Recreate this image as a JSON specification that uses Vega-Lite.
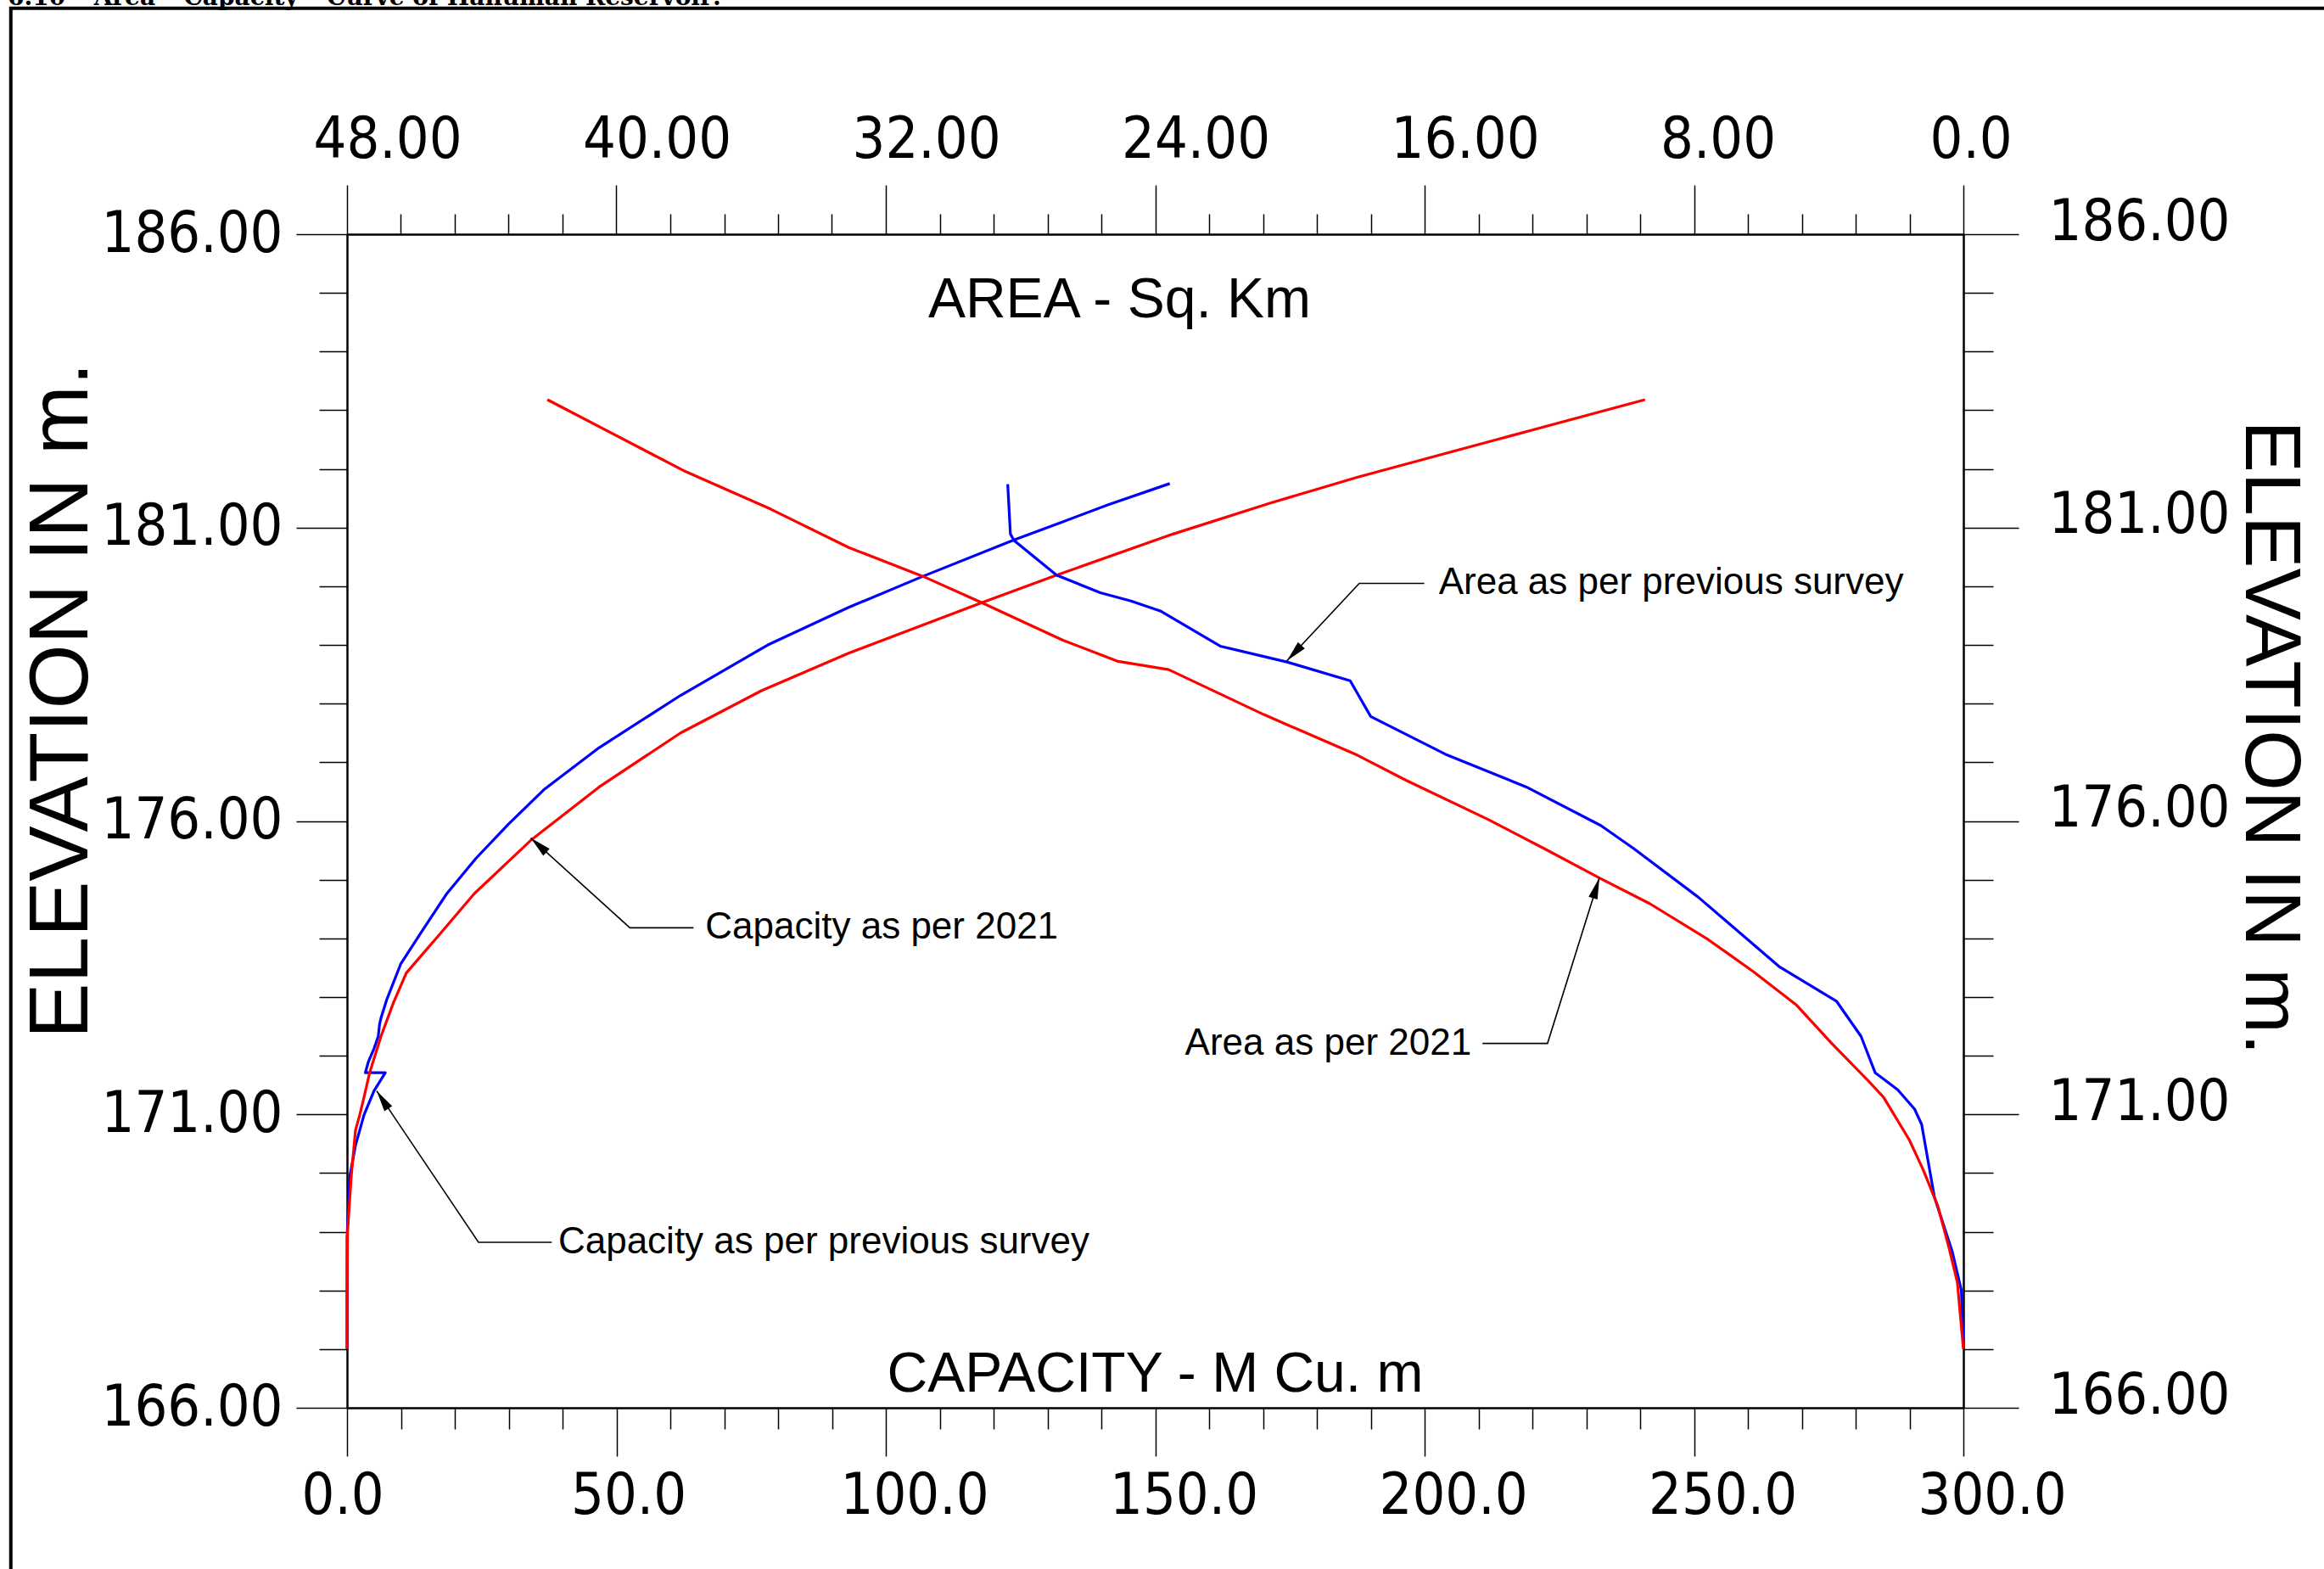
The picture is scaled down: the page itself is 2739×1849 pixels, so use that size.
{
  "$schema": "https://vega.github.io/schema/vega-lite/v6.json",
  "width": 1905,
  "height": 1383,
  "autosize": "none",
  "padding": {"left": 409, "top": 276, "right": 425, "bottom": 190},
  "background": "white",
  "config": {
    "view": {"stroke": null},
    "axis": {"grid": false, "domainColor": "black", "tickColor": "black", "labelColor": "black", "titleColor": "black", "domainWidth": 2.5, "tickWidth": 1.5, "labelOverlap": false, "labelFlush": false, "labelBound": false, "labelLimit": 0, "titleLimit": 0}
  },
  "datasets": {
    "frame": [{"cap": -62.4, "cap2": 370, "elev": 189.85, "elev2": 162.9}],
    "pageTitle": [{"text": "6.10 – Area – Capacity – Curve of Hanuman Reservoir:", "cap": -63.0, "elev": 189.9}],
    "capacity": [
      {"s": "previous survey", "i": 0, "elev": 167.0, "cap": 0},
      {"s": "previous survey", "i": 1, "elev": 168.9, "cap": 0},
      {"s": "previous survey", "i": 2, "elev": 169.44, "cap": 0.26},
      {"s": "previous survey", "i": 3, "elev": 169.95, "cap": 0.52},
      {"s": "previous survey", "i": 4, "elev": 170.47, "cap": 1.57},
      {"s": "previous survey", "i": 5, "elev": 170.99, "cap": 3.15},
      {"s": "previous survey", "i": 6, "elev": 171.4, "cap": 5.0},
      {"s": "previous survey", "i": 7, "elev": 171.71, "cap": 7.1},
      {"s": "previous survey", "i": 8, "elev": 171.71, "cap": 3.4},
      {"s": "previous survey", "i": 9, "elev": 171.89, "cap": 3.94},
      {"s": "previous survey", "i": 10, "elev": 172.12, "cap": 5.0},
      {"s": "previous survey", "i": 11, "elev": 172.33, "cap": 5.8},
      {"s": "previous survey", "i": 12, "elev": 172.54, "cap": 6.04},
      {"s": "previous survey", "i": 13, "elev": 172.64, "cap": 6.3},
      {"s": "previous survey", "i": 14, "elev": 172.95, "cap": 7.35},
      {"s": "previous survey", "i": 15, "elev": 173.57, "cap": 10.0},
      {"s": "previous survey", "i": 16, "elev": 174.08, "cap": 13.6},
      {"s": "previous survey", "i": 17, "elev": 174.76, "cap": 18.5},
      {"s": "previous survey", "i": 18, "elev": 175.36, "cap": 23.9},
      {"s": "previous survey", "i": 19, "elev": 175.94, "cap": 29.9},
      {"s": "previous survey", "i": 20, "elev": 176.53, "cap": 36.5},
      {"s": "previous survey", "i": 21, "elev": 177.25, "cap": 46.8},
      {"s": "previous survey", "i": 22, "elev": 178.14, "cap": 61.9},
      {"s": "previous survey", "i": 23, "elev": 179.0, "cap": 78.1},
      {"s": "previous survey", "i": 24, "elev": 179.64, "cap": 93.1},
      {"s": "previous survey", "i": 25, "elev": 180.17, "cap": 106.9},
      {"s": "previous survey", "i": 26, "elev": 180.78, "cap": 123.5},
      {"s": "previous survey", "i": 27, "elev": 181.08, "cap": 132.3},
      {"s": "previous survey", "i": 28, "elev": 181.39, "cap": 141.3},
      {"s": "previous survey", "i": 29, "elev": 181.75, "cap": 152.7},
      {"s": "2021", "i": 0, "elev": 167.0, "cap": 0},
      {"s": "2021", "i": 1, "elev": 168.0, "cap": 0.02},
      {"s": "2021", "i": 2, "elev": 169.0, "cap": 0.1},
      {"s": "2021", "i": 3, "elev": 169.95, "cap": 0.79},
      {"s": "2021", "i": 4, "elev": 170.73, "cap": 1.57},
      {"s": "2021", "i": 5, "elev": 170.99, "cap": 2.36},
      {"s": "2021", "i": 6, "elev": 171.29, "cap": 3.15},
      {"s": "2021", "i": 7, "elev": 171.71, "cap": 4.2},
      {"s": "2021", "i": 8, "elev": 172.33, "cap": 6.3},
      {"s": "2021", "i": 9, "elev": 172.9, "cap": 8.6},
      {"s": "2021", "i": 10, "elev": 173.41, "cap": 11.0},
      {"s": "2021", "i": 11, "elev": 174.08, "cap": 17.3},
      {"s": "2021", "i": 12, "elev": 174.76, "cap": 23.6},
      {"s": "2021", "i": 13, "elev": 175.67, "cap": 34.1},
      {"s": "2021", "i": 14, "elev": 176.58, "cap": 46.8},
      {"s": "2021", "i": 15, "elev": 177.5, "cap": 61.9},
      {"s": "2021", "i": 16, "elev": 178.22, "cap": 76.9},
      {"s": "2021", "i": 17, "elev": 178.86, "cap": 93.1},
      {"s": "2021", "i": 18, "elev": 179.72, "cap": 117.8},
      {"s": "2021", "i": 19, "elev": 180.19, "cap": 131.7},
      {"s": "2021", "i": 20, "elev": 180.89, "cap": 153.3},
      {"s": "2021", "i": 21, "elev": 181.42, "cap": 171.4},
      {"s": "2021", "i": 22, "elev": 181.86, "cap": 187.6},
      {"s": "2021", "i": 23, "elev": 182.5, "cap": 213.4},
      {"s": "2021", "i": 24, "elev": 183.18, "cap": 240.9}
    ],
    "area": [
      {"s": "previous survey", "i": 0, "elev": 181.74, "area": 28.38},
      {"s": "previous survey", "i": 1, "elev": 180.89, "area": 28.3},
      {"s": "previous survey", "i": 2, "elev": 180.78, "area": 28.19},
      {"s": "previous survey", "i": 3, "elev": 180.19, "area": 26.93},
      {"s": "previous survey", "i": 4, "elev": 179.89, "area": 25.63},
      {"s": "previous survey", "i": 5, "elev": 179.75, "area": 24.72},
      {"s": "previous survey", "i": 6, "elev": 179.58, "area": 23.85},
      {"s": "previous survey", "i": 7, "elev": 178.98, "area": 22.07},
      {"s": "previous survey", "i": 8, "elev": 178.71, "area": 20.09},
      {"s": "previous survey", "i": 9, "elev": 178.39, "area": 18.21},
      {"s": "previous survey", "i": 10, "elev": 177.78, "area": 17.6},
      {"s": "previous survey", "i": 11, "elev": 177.14, "area": 15.39},
      {"s": "previous survey", "i": 12, "elev": 176.58, "area": 12.98},
      {"s": "previous survey", "i": 13, "elev": 175.92, "area": 10.76},
      {"s": "previous survey", "i": 14, "elev": 175.53, "area": 9.79},
      {"s": "previous survey", "i": 15, "elev": 174.7, "area": 7.87},
      {"s": "previous survey", "i": 16, "elev": 173.51, "area": 5.45},
      {"s": "previous survey", "i": 17, "elev": 172.93, "area": 3.77},
      {"s": "previous survey", "i": 18, "elev": 172.33, "area": 3.04},
      {"s": "previous survey", "i": 19, "elev": 171.71, "area": 2.62},
      {"s": "previous survey", "i": 20, "elev": 171.42, "area": 1.95},
      {"s": "previous survey", "i": 21, "elev": 171.09, "area": 1.45},
      {"s": "previous survey", "i": 22, "elev": 170.83, "area": 1.24},
      {"s": "previous survey", "i": 23, "elev": 169.59, "area": 0.86},
      {"s": "previous survey", "i": 24, "elev": 168.66, "area": 0.33},
      {"s": "previous survey", "i": 25, "elev": 168.0, "area": 0.06},
      {"s": "previous survey", "i": 26, "elev": 167.03, "area": 0},
      {"s": "2021", "i": 0, "elev": 183.18, "area": 42.05},
      {"s": "2021", "i": 1, "elev": 181.97, "area": 38.0},
      {"s": "2021", "i": 2, "elev": 181.31, "area": 35.4},
      {"s": "2021", "i": 3, "elev": 180.66, "area": 33.1},
      {"s": "2021", "i": 4, "elev": 180.17, "area": 30.9},
      {"s": "2021", "i": 5, "elev": 179.72, "area": 29.15},
      {"s": "2021", "i": 6, "elev": 179.08, "area": 26.74},
      {"s": "2021", "i": 7, "elev": 178.72, "area": 25.1},
      {"s": "2021", "i": 8, "elev": 178.58, "area": 23.6},
      {"s": "2021", "i": 9, "elev": 177.81, "area": 20.76},
      {"s": "2021", "i": 10, "elev": 177.12, "area": 17.99},
      {"s": "2021", "i": 11, "elev": 176.69, "area": 16.54},
      {"s": "2021", "i": 12, "elev": 176.03, "area": 14.13},
      {"s": "2021", "i": 13, "elev": 175.53, "area": 12.45},
      {"s": "2021", "i": 14, "elev": 175.03, "area": 10.81},
      {"s": "2021", "i": 15, "elev": 174.59, "area": 9.31},
      {"s": "2021", "i": 16, "elev": 173.98, "area": 7.58},
      {"s": "2021", "i": 17, "elev": 173.43, "area": 6.23},
      {"s": "2021", "i": 18, "elev": 172.87, "area": 4.97},
      {"s": "2021", "i": 19, "elev": 172.21, "area": 3.91},
      {"s": "2021", "i": 20, "elev": 171.6, "area": 2.87},
      {"s": "2021", "i": 21, "elev": 171.29, "area": 2.37},
      {"s": "2021", "i": 22, "elev": 170.57, "area": 1.61},
      {"s": "2021", "i": 23, "elev": 170.05, "area": 1.19},
      {"s": "2021", "i": 24, "elev": 169.44, "area": 0.76},
      {"s": "2021", "i": 25, "elev": 168.71, "area": 0.42},
      {"s": "2021", "i": 26, "elev": 168.14, "area": 0.18},
      {"s": "2021", "i": 27, "elev": 167.0, "area": 0}
    ],
    "capLeaders": [
      {"k": "prev", "i": 0, "cap": 5.5, "elev": 171.4},
      {"k": "prev", "i": 1, "cap": 24.4, "elev": 168.82},
      {"k": "prev", "i": 2, "cap": 38.0, "elev": 168.82},
      {"k": "2021", "i": 0, "cap": 34.1, "elev": 175.71},
      {"k": "2021", "i": 1, "cap": 52.5, "elev": 174.18},
      {"k": "2021", "i": 2, "cap": 64.3, "elev": 174.18}
    ],
    "capTips": [
      {"k": "prev", "cap": 5.5, "elev": 171.4},
      {"k": "2021", "cap": 34.1, "elev": 175.71}
    ],
    "capLabels": [
      {"text": "Capacity as per previous survey", "cap": 39.2, "elev": 168.82},
      {"text": "Capacity as per 2021", "cap": 66.5, "elev": 174.18}
    ],
    "areaLeaders": [
      {"k": "prev", "i": 0, "area": 20.09, "elev": 178.73},
      {"k": "prev", "i": 1, "area": 17.94, "elev": 180.05},
      {"k": "prev", "i": 2, "area": 16.01, "elev": 180.05},
      {"k": "2021", "i": 0, "area": 10.81, "elev": 175.03},
      {"k": "2021", "i": 1, "area": 12.35, "elev": 172.21},
      {"k": "2021", "i": 2, "area": 14.28, "elev": 172.21}
    ],
    "areaTips": [
      {"k": "prev", "area": 20.09, "elev": 178.73},
      {"k": "2021", "area": 10.81, "elev": 175.03}
    ],
    "areaLabels": [
      {"text": "Area as per previous survey", "area": 15.58, "elev": 180.05, "side": "left"},
      {"text": "Area as per 2021", "area": 14.61, "elev": 172.21, "side": "right"}
    ]
  },
  "layer": [
    {
      "encoding": {
        "x": {
          "field": "cap", "type": "quantitative",
          "scale": {"domain": [0, 300], "nice": false, "zero": false},
          "axis": {
            "orient": "bottom",
            "values": [0,10,20,30,40,50,60,70,80,90,100,110,120,130,140,150,160,170,180,190,200,210,220,230,240,250,260,270,280,290,300],
            "tickSize": {"condition": {"test": "datum.value % 50 === 0", "value": 57}, "value": 25},
            "labelExpr": "datum.value % 50 === 0 ? format(datum.value, '.1f') : ''",
            "labelFont": "Liberation Sans Narrow, DejaVu Sans Condensed, sans-serif",
            "labelFontSize": 68,
            "labelAlign": "left",
            "labelOffset": -54,
            "labelBaseline": "top",
            "labelPadding": 13,
            "title": "CAPACITY - M Cu. m",
            "titleFont": "Liberation Sans",
            "titleFontSize": 66,
            "titleFontWeight": "normal",
            "titleX": 952,
            "titleY": -40,
            "titleBaseline": "middle",
            "titleAlign": "center"
          }
        },
        "y": {
          "field": "elev", "type": "quantitative",
          "scale": {"domain": [166, 186], "nice": false, "zero": false},
          "axis": {
            "orient": "left",
            "values": [166,167,168,169,170,171,172,173,174,175,176,177,178,179,180,181,182,183,184,185,186],
            "tickSize": {"condition": {"test": "datum.value % 5 === 1", "value": 60}, "value": 33},
            "labelExpr": "datum.value % 5 === 1 ? format(datum.value, '.2f') : ''",
            "labelFont": "Liberation Sans Narrow, DejaVu Sans Condensed, sans-serif",
            "labelFontSize": 68,
            "labelPadding": 16,
            "labelBaseline": "middle",
            "title": "ELEVATION IN m.",
            "titleFont": "Liberation Sans",
            "titleFontSize": 98,
            "titleFontWeight": "normal",
            "titleAngle": -90,
            "titleX": -336,
            "titleY": 549,
            "titleBaseline": "middle",
            "titleAlign": "center"
          }
        }
      },
      "layer": [
        {
          "data": {"name": "frame"},
          "mark": {"type": "rect", "filled": false, "stroke": "black", "strokeWidth": 4, "clip": false},
          "encoding": {"x2": {"field": "cap2"}, "y2": {"field": "elev2"}}
        },
        {
          "data": {"name": "pageTitle"},
          "mark": {"type": "text", "align": "left", "baseline": "alphabetic", "font": "DejaVu Serif", "fontWeight": "bold", "fontSize": 28, "color": "black"},
          "encoding": {"text": {"field": "text"}}
        },
        {
          "data": {"name": "capacity"},
          "mark": {"type": "line", "strokeWidth": 3.2, "strokeJoin": "round"},
          "encoding": {
            "color": {"field": "s", "type": "nominal", "scale": {"domain": ["previous survey", "2021"], "range": ["#0000ff", "#ff0000"]}, "legend": null},
            "order": {"field": "i", "type": "quantitative"}
          }
        },
        {
          "data": {"name": "capLeaders"},
          "mark": {"type": "line", "color": "black", "strokeWidth": 1.6},
          "encoding": {"detail": {"field": "k"}, "order": {"field": "i", "type": "quantitative"}}
        },
        {
          "data": {"name": "capTips"},
          "transform": [{"filter": "datum.k === 'prev'"}],
          "mark": {"type": "point", "shape": "M0,0 L-0.22,1 L0.22,1 Z", "size": 2500, "angle": 326.7, "filled": true, "color": "black", "opacity": 1, "strokeWidth": 0}
        },
        {
          "data": {"name": "capTips"},
          "transform": [{"filter": "datum.k === '2021'"}],
          "mark": {"type": "point", "shape": "M0,0 L-0.22,1 L0.22,1 Z", "size": 2500, "angle": 312.3, "filled": true, "color": "black", "opacity": 1, "strokeWidth": 0}
        },
        {
          "data": {"name": "capLabels"},
          "mark": {"type": "text", "align": "left", "baseline": "middle", "font": "Liberation Sans", "fontSize": 44, "color": "black"},
          "encoding": {"text": {"field": "text"}}
        }
      ]
    },
    {
      "encoding": {
        "x": {
          "field": "area", "type": "quantitative",
          "scale": {"domain": [0, 48], "reverse": true, "nice": false, "zero": false},
          "axis": {
            "orient": "top",
            "values": [0,1.6,3.2,4.8,6.4,8,9.6,11.2,12.8,14.4,16,17.6,19.2,20.8,22.4,24,25.6,27.2,28.8,30.4,32,33.6,35.2,36.8,38.4,40,41.6,43.2,44.8,46.4,48],
            "tickSize": {"condition": {"test": "datum.value % 8 === 0", "value": 58}, "value": 24},
            "labelExpr": "datum.value === 0 ? '0.0' : (datum.value % 8 === 0 ? format(datum.value, '.2f') : '')",
            "labelFont": "Liberation Sans Narrow, DejaVu Sans Condensed, sans-serif",
            "labelFontSize": 68,
            "labelAlign": "left",
            "labelOffset": -40,
            "labelBaseline": "alphabetic",
            "labelPadding": 33,
            "title": "AREA - Sq. Km",
            "titleFont": "Liberation Sans",
            "titleFontSize": 66,
            "titleFontWeight": "normal",
            "titleX": 910,
            "titleY": 77,
            "titleBaseline": "middle",
            "titleAlign": "center"
          }
        },
        "y": {
          "field": "elev", "type": "quantitative",
          "scale": {"domain": [166, 186], "nice": false, "zero": false},
          "axis": {
            "orient": "right",
            "values": [166,167,168,169,170,171,172,173,174,175,176,177,178,179,180,181,182,183,184,185,186],
            "tickSize": {"condition": {"test": "datum.value % 5 === 1", "value": 65}, "value": 35},
            "labelExpr": "datum.value % 5 === 1 ? format(datum.value, '.2f') : ''",
            "labelFont": "Liberation Sans Narrow, DejaVu Sans Condensed, sans-serif",
            "labelFontSize": 68,
            "labelPadding": 35,
            "labelOffset": -14,
            "labelBaseline": "middle",
            "title": "ELEVATION IN m.",
            "titleFont": "Liberation Sans",
            "titleFontSize": 92,
            "titleFontWeight": "normal",
            "titleAngle": 90,
            "titleX": 360,
            "titleY": 593,
            "titleBaseline": "middle",
            "titleAlign": "center"
          }
        }
      },
      "layer": [
        {
          "data": {"name": "area"},
          "mark": {"type": "line", "strokeWidth": 3.2, "strokeJoin": "round"},
          "encoding": {
            "color": {"field": "s", "type": "nominal", "scale": {"domain": ["previous survey", "2021"], "range": ["#0000ff", "#ff0000"]}, "legend": null},
            "order": {"field": "i", "type": "quantitative"}
          }
        },
        {
          "data": {"name": "areaLeaders"},
          "mark": {"type": "line", "color": "black", "strokeWidth": 1.6},
          "encoding": {"detail": {"field": "k"}, "order": {"field": "i", "type": "quantitative"}}
        },
        {
          "data": {"name": "areaTips"},
          "transform": [{"filter": "datum.k === 'prev'"}],
          "mark": {"type": "point", "shape": "M0,0 L-0.22,1 L0.22,1 Z", "size": 2500, "angle": 223.3, "filled": true, "color": "black", "opacity": 1, "strokeWidth": 0}
        },
        {
          "data": {"name": "areaTips"},
          "transform": [{"filter": "datum.k === '2021'"}],
          "mark": {"type": "point", "shape": "M0,0 L-0.22,1 L0.22,1 Z", "size": 2500, "angle": 17.4, "filled": true, "color": "black", "opacity": 1, "strokeWidth": 0}
        },
        {
          "data": {"name": "areaLabels"},
          "transform": [{"filter": "datum.side === 'left'"}],
          "mark": {"type": "text", "align": "left", "baseline": "middle", "font": "Liberation Sans", "fontSize": 44, "color": "black"},
          "encoding": {"text": {"field": "text"}}
        },
        {
          "data": {"name": "areaLabels"},
          "transform": [{"filter": "datum.side === 'right'"}],
          "mark": {"type": "text", "align": "right", "baseline": "middle", "font": "Liberation Sans", "fontSize": 44, "color": "black"},
          "encoding": {"text": {"field": "text"}}
        }
      ]
    }
  ],
  "resolve": {"scale": {"x": "independent", "y": "independent"}}
}
